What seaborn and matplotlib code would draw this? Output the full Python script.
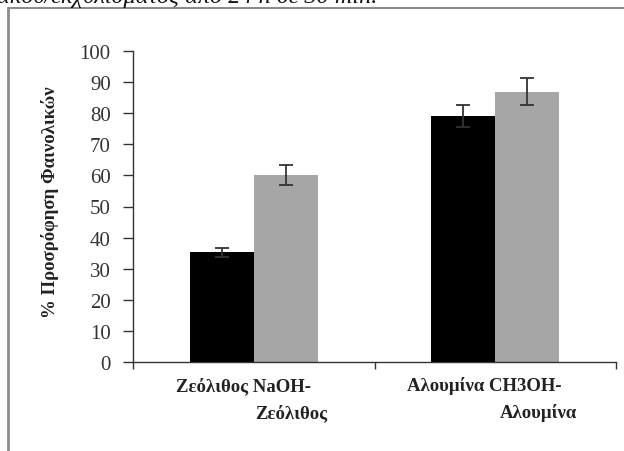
import matplotlib
matplotlib.use("Agg")
import matplotlib.pyplot as plt
from matplotlib.lines import Line2D
import matplotlib.transforms as mtrans
import seaborn as sns
import pandas as pd

categories = ["Ζεόλιθος NaOH-", "Αλουμίνα CH3OH-"]
second_lines = ["Ζεόλιθος", "Αλουμίνα"]
series = ["Σειρά 1", "Σειρά 2"]
values_s1 = [35.3, 79.1]
values_s2 = [60.1, 86.9]
err_s1 = [1.4, 3.6]
err_s2 = [3.1, 4.4]
yticks = [0, 10, 20, 30, 40, 50, 60, 70, 80, 90, 100]
ylabel = "% Προσρόφηση Φαινολικών"
header = "ακού/εκχυλίσματος από 24 h σε 30 min."

df = pd.DataFrame({
    "cat": categories * 2,
    "series": [series[0]] * 2 + [series[1]] * 2,
    "val": values_s1 + values_s2,
})

sns.set_theme(style="white")
plt.rcParams["font.family"] = ["Liberation Serif", "DejaVu Serif"]

fig = plt.figure(figsize=(6.24, 4.52), dpi=100)
ax = fig.add_axes([133/624, 1 - 363/452, (616 - 133)/624, (363 - 52)/452])

sns.barplot(data=df, x="cat", y="val", hue="series", order=categories,
            hue_order=series, palette=["#000000", "#a6a6a6"], width=0.53,
            errorbar=None, saturation=1, ax=ax, legend=False, linewidth=0)

errs = err_s1 + err_s2
vals = values_s1 + values_s2
patches = sorted(ax.patches, key=lambda p: (p.get_facecolor()[0], p.get_x()))
for p, v, e in zip(patches, vals, errs):
    xc = p.get_x() + p.get_width() / 2
    ax.errorbar(xc, v, yerr=e, color="#333333", capsize=5, elinewidth=1.3,
                capthick=1.3, fmt="none")

ax.set_ylim(0, 100)
ax.set_xlim(-0.5, 1.5)
ax.set_yticks(yticks)
ax.set_yticklabels([str(t) for t in yticks], fontsize=15, color="#333333")
ax.set_xticks([0, 1])
ax.set_xticklabels(categories, fontsize=13.5, fontweight="bold", color="#222222")
ax.set_xticks([-0.5, 0.5, 1.5], minor=True)
ax.tick_params(axis="x", which="major", length=0, pad=10)
ax.tick_params(axis="x", which="minor", length=5, width=1, color="#333333", direction="out", bottom=True)
ax.tick_params(axis="y", length=7, width=1, color="#333333", direction="out", left=True, pad=9)
ax.set_xlabel("")
ax.set_ylabel(ylabel, fontsize=13.5, fontweight="bold", color="#222222")
ax.yaxis.set_label_coords(-0.154, 0.518)

for sp in ["top", "right"]:
    ax.spines[sp].set_visible(False)
for sp in ["left", "bottom"]:
    ax.spines[sp].set_color("#333333")
    ax.spines[sp].set_linewidth(1)

for lbl, off in zip(ax.get_xticklabels(), [-10, -11]):
    lbl.set_transform(lbl.get_transform() + mtrans.Affine2D().translate(off, 0))
trans = mtrans.blended_transform_factory(ax.transData, fig.transFigure)
for i, (t, dx) in enumerate(zip(second_lines, [0.155, 0.18])):
    ax.text(i + dx, 1 - 413/452, t, transform=trans, ha="center", va="center",
            fontsize=13.5, fontweight="bold", color="#222222")

# surrounding frame lines (page border)
fig.add_artist(Line2D([8/624, 8/624], [0, 1 - 9/452], transform=fig.transFigure,
                      color="#8c8c8c", linewidth=2))
fig.add_artist(Line2D([8/624, 1], [1 - 9/452, 1 - 9/452], transform=fig.transFigure,
                      color="#8c8c8c", linewidth=1.5))
fig.text(-0.005, 1 - 3/452, header, fontsize=17.5, style="italic", ha="left",
         va="baseline", color="#111111")

fig.savefig("out.png", dpi=100)
